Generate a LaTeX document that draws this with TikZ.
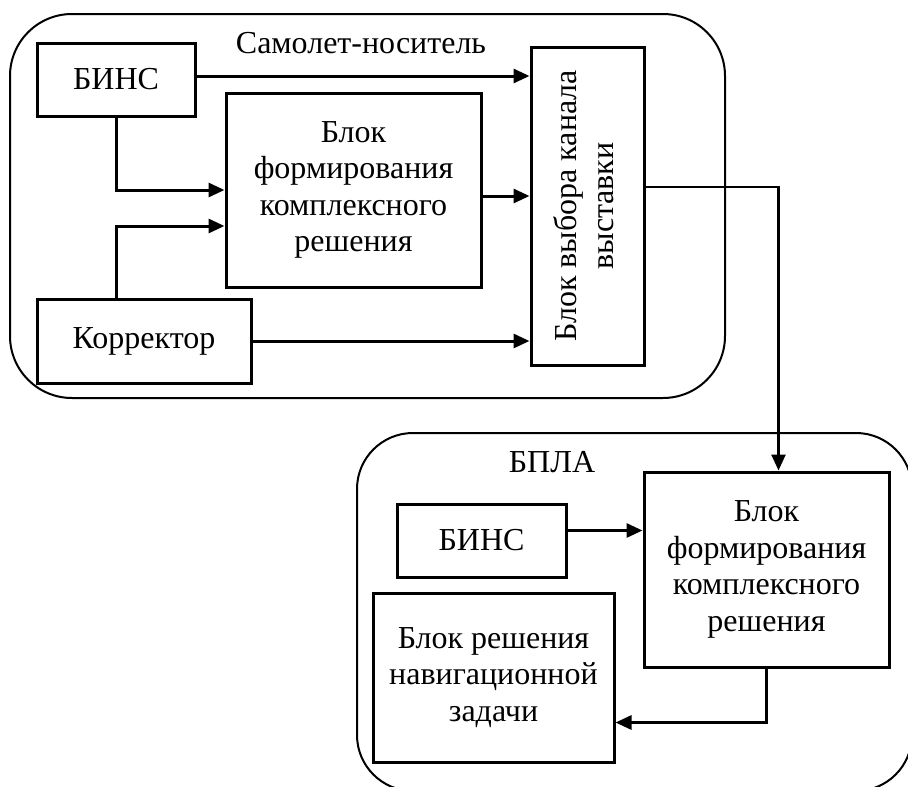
\documentclass[tikz,border=0pt]{standalone}
\usepackage{fontspec}
\setmainfont{Liberation Serif}
\usetikzlibrary{arrows.meta,positioning}

\begin{document}
\begin{tikzpicture}[x=1pt,y=-1pt,
  font=\fontsize{32}{36.5}\selectfont,
  block/.style={draw,line width=3pt,align=center,inner sep=0pt},
  group/.style={draw,line width=2pt,rounded corners=#1},
  link/.style={line width=3pt,-{Triangle[length=16pt,width=14pt]}}]
  \useasboundingbox (0,0) rectangle (908,787);
  \clip (0,0) rectangle (908,787);

  % carrier aircraft
  \draw [group=62pt] (10,14) rectangle (725,398);
  \node [anchor=base] (carrier) at (361,53) {Самолет-носитель};

  \node [block,minimum width=158pt,minimum height=73pt] (bins1) at (116,79.5) {БИНС};
  \node [block,minimum width=255pt,minimum height=194pt] (form1) at (353.5,190) {Блок\\формирования\\комплексного\\решения};
  \node [block,minimum width=214pt,minimum height=84pt] (corr) at (144,341) {Корректор};
  \node [block,minimum width=113pt,minimum height=318pt] (choice) at (587.5,206)
    {\rotatebox{90}{\begin{tabular}{@{}c@{}}Блок выбора канала\\выставки\end{tabular}}};

  % UAV
  \draw [group=56pt] (357,433) rectangle (912,791);
  \node [anchor=base] (uav) at (552,472) {БПЛА};

  \node [block,minimum width=169pt,minimum height=73pt] (bins2) at (481.5,540.5) {БИНС};
  \node [block,minimum width=245pt,minimum height=195pt] (form2) at (766.5,569.5) {Блок\\формирования\\комплексного\\решения};
  \node [block,minimum width=241pt,minimum height=169pt] (nav) at (493.5,677.5) {Блок решения\\навигационной\\задачи};

  \draw [link] ([yshift=3.5pt]bins1.east) -- ([yshift=3.5pt]bins1.east -| choice.west);
  \draw [link] (bins1.south) |- (form1.west);
  \draw [link] (corr.north -| bins1.south) |- ([yshift=-36pt]form1.west);
  \draw [link] ([yshift=-6pt]form1.east) -- ([yshift=-6pt]form1.east -| choice.west);
  \draw [link] (corr.east) -- (corr.east -| choice.west);
  \draw [link,line width=2.5pt] ([yshift=19pt]choice.east) -| ([xshift=12pt]form2.north);
  \draw [link] ([yshift=10pt]bins2.east) -- ([yshift=10pt]bins2.east -| form2.west);
  \draw [link] (form2.south) |- ([yshift=-45pt]nav.east);
\end{tikzpicture}
\end{document}
